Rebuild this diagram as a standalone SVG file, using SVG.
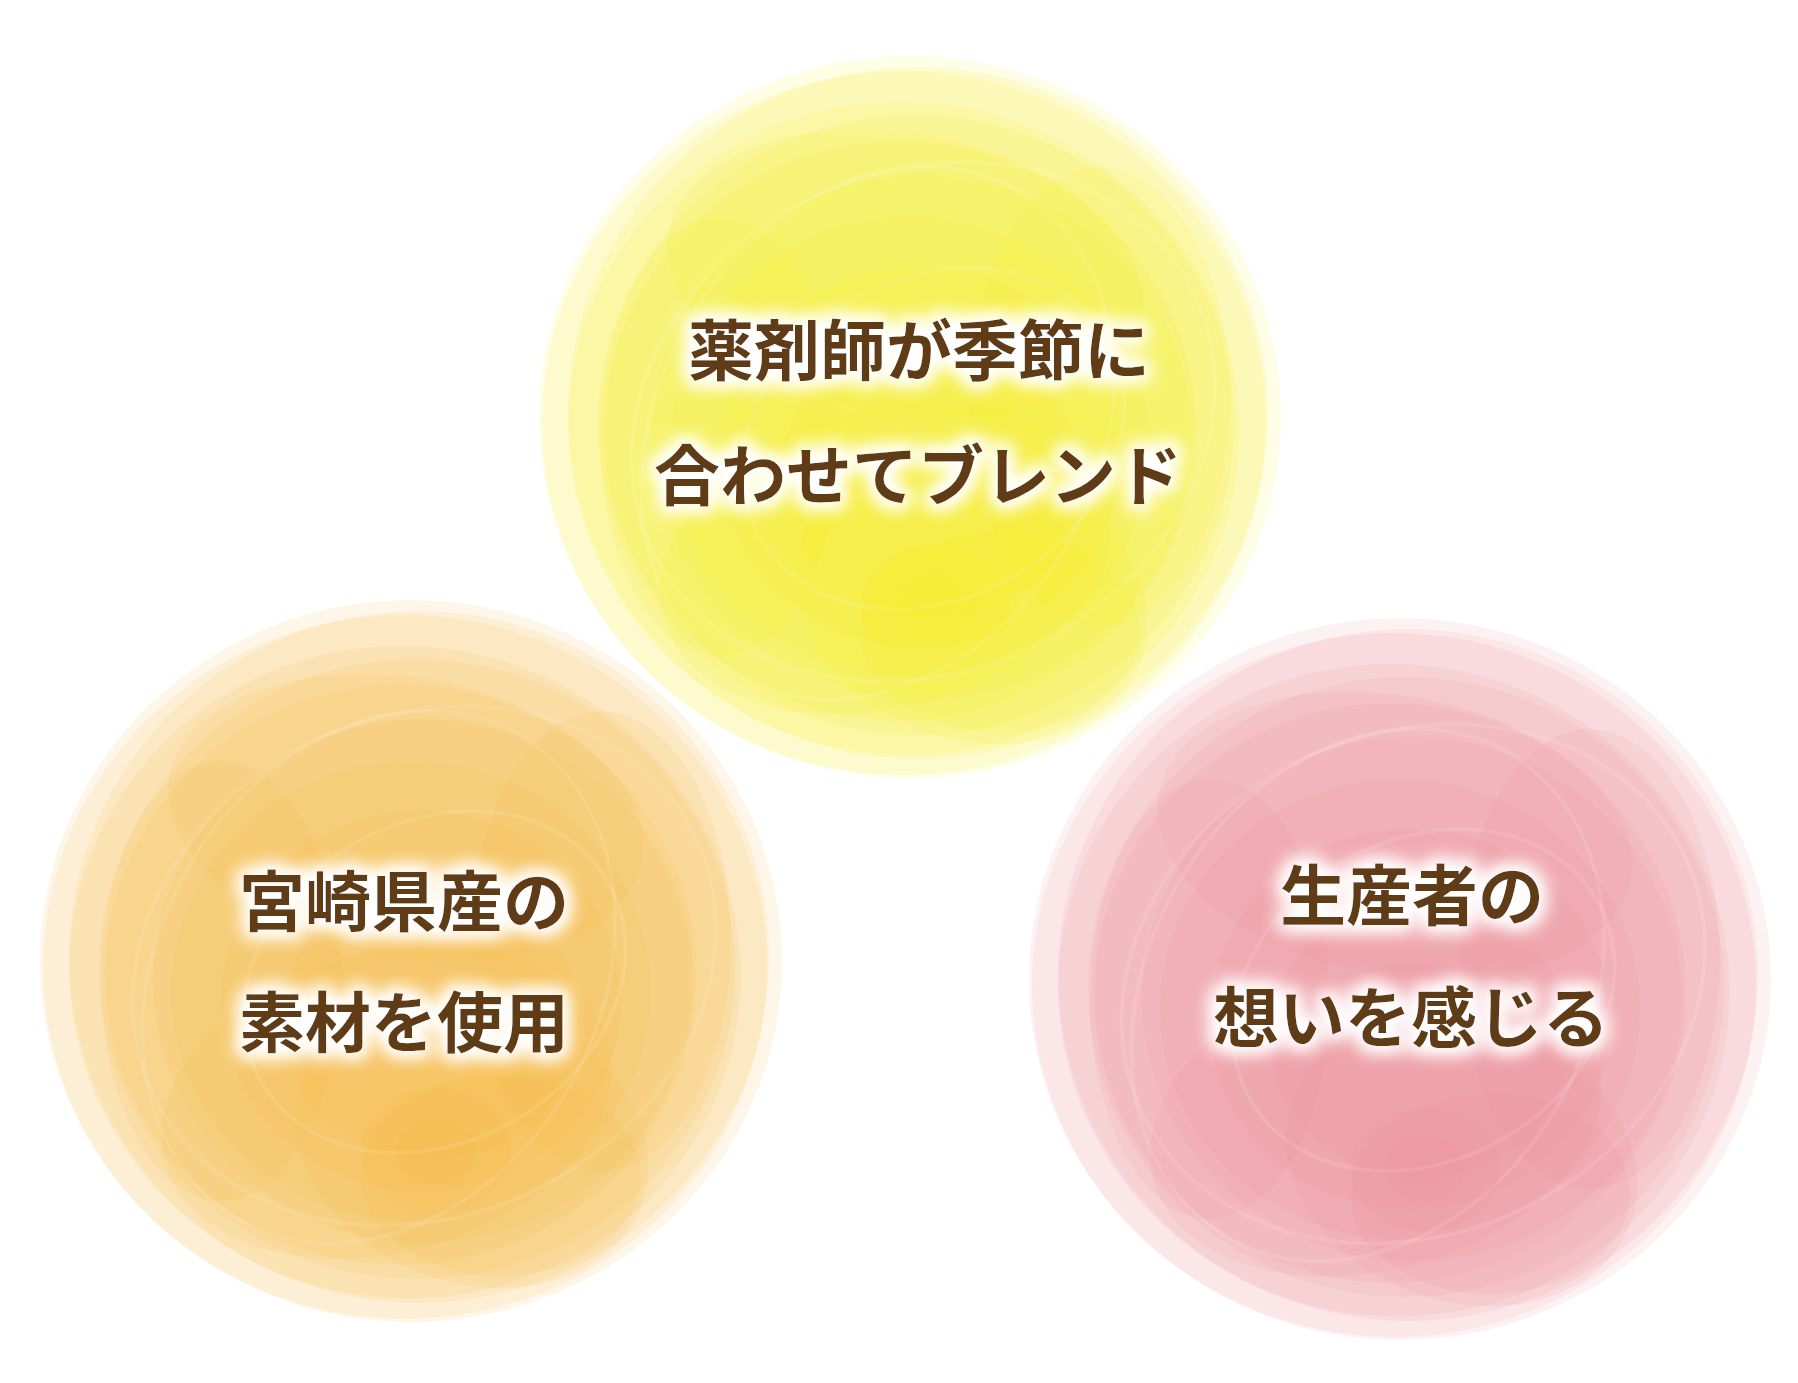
<svg xmlns="http://www.w3.org/2000/svg" xmlns:xlink="http://www.w3.org/1999/xlink" width="1798" height="1383" viewBox="0 0 1798 1383">
<defs>
<style>
.lbl{font-family:"Noto Sans CJK JP","Noto Sans",sans-serif;font-weight:700;font-size:66px;fill:#5f3a16;text-anchor:middle;filter:url(#glow)}
.wash ellipse{fill:currentColor;fill-opacity:0.11}
.wash .tex{fill:none;stroke:#ffffff;stroke-opacity:0.1;stroke-width:4}
</style>
<filter id="glow" x="-25%" y="-60%" width="150%" height="220%">
<feMorphology in="SourceAlpha" operator="dilate" radius="4" result="d"/>
<feGaussianBlur in="d" stdDeviation="9" result="b"/>
<feFlood flood-color="#ffffff" flood-opacity="1"/>
<feComposite in2="b" operator="in" result="g"/>
<feMerge><feMergeNode in="g"/><feMergeNode in="g"/><feMergeNode in="SourceGraphic"/></feMerge>
</filter>
<g id="wash" class="wash">
<ellipse cx="0" cy="0" rx="371" ry="361"/>
<ellipse cx="-6" cy="6" rx="362" ry="352"/>
<ellipse cx="8" cy="-4" rx="350" ry="346"/>
<ellipse cx="-4" cy="12" rx="336" ry="326" transform="rotate(10)"/>
<ellipse cx="6" cy="8" rx="318" ry="310"/>
<ellipse cx="-10" cy="14" rx="296" ry="290"/>
<ellipse cx="12" cy="20" rx="270" ry="262"/>
<ellipse cx="0" cy="30" rx="240" ry="230"/>
<ellipse cx="10" cy="40" rx="200" ry="190"/>
<ellipse cx="20" cy="60" rx="150" ry="140"/>
<ellipse cx="-60" cy="130" rx="230" ry="150" transform="rotate(-15)"/>
<ellipse cx="120" cy="150" rx="180" ry="140" transform="rotate(20)"/>
<ellipse cx="-30" cy="-140" rx="240" ry="140" transform="rotate(10)"/>
<ellipse cx="-190" cy="20" rx="120" ry="220"/>
<ellipse cx="190" cy="-20" rx="130" ry="230"/>
<ellipse cx="90" cy="215" rx="140" ry="100"/>
<ellipse cx="25" cy="190" rx="75" ry="62"/>
<ellipse cx="25" cy="190" rx="40" ry="34"/>
<ellipse class="tex" cx="10" cy="10" rx="300" ry="250" transform="rotate(-25)"/>
<ellipse class="tex" cx="-20" cy="30" rx="220" ry="280" transform="rotate(30)"/>
<ellipse class="tex" cx="30" cy="-10" rx="160" ry="200" transform="rotate(60)"/>
</g>
</defs>
<rect width="1798" height="1383" fill="#ffffff"/>
<g id="node-yellow">
<use xlink:href="#wash" href="#wash" transform="translate(910,417)" style="color:#f9ea12"/>
<text class="lbl" x="919" y="375">薬剤師が季節に</text>
<text class="lbl" x="918" y="500">合わせてブレンド</text>
</g>
<g id="node-orange">
<use xlink:href="#wash" href="#wash" transform="translate(411,961)" style="color:#f4b634"/>
<text class="lbl" x="404" y="926">宮崎県産の</text>
<text class="lbl" x="404" y="1047">素材を使用</text>
</g>
<g id="node-pink">
<use xlink:href="#wash" href="#wash" transform="translate(1400,979)" style="color:#ee8c95"/>
<text class="lbl" x="1412" y="920">生産者の</text>
<text class="lbl" x="1411" y="1042">想いを感じる</text>
</g>
</svg>
